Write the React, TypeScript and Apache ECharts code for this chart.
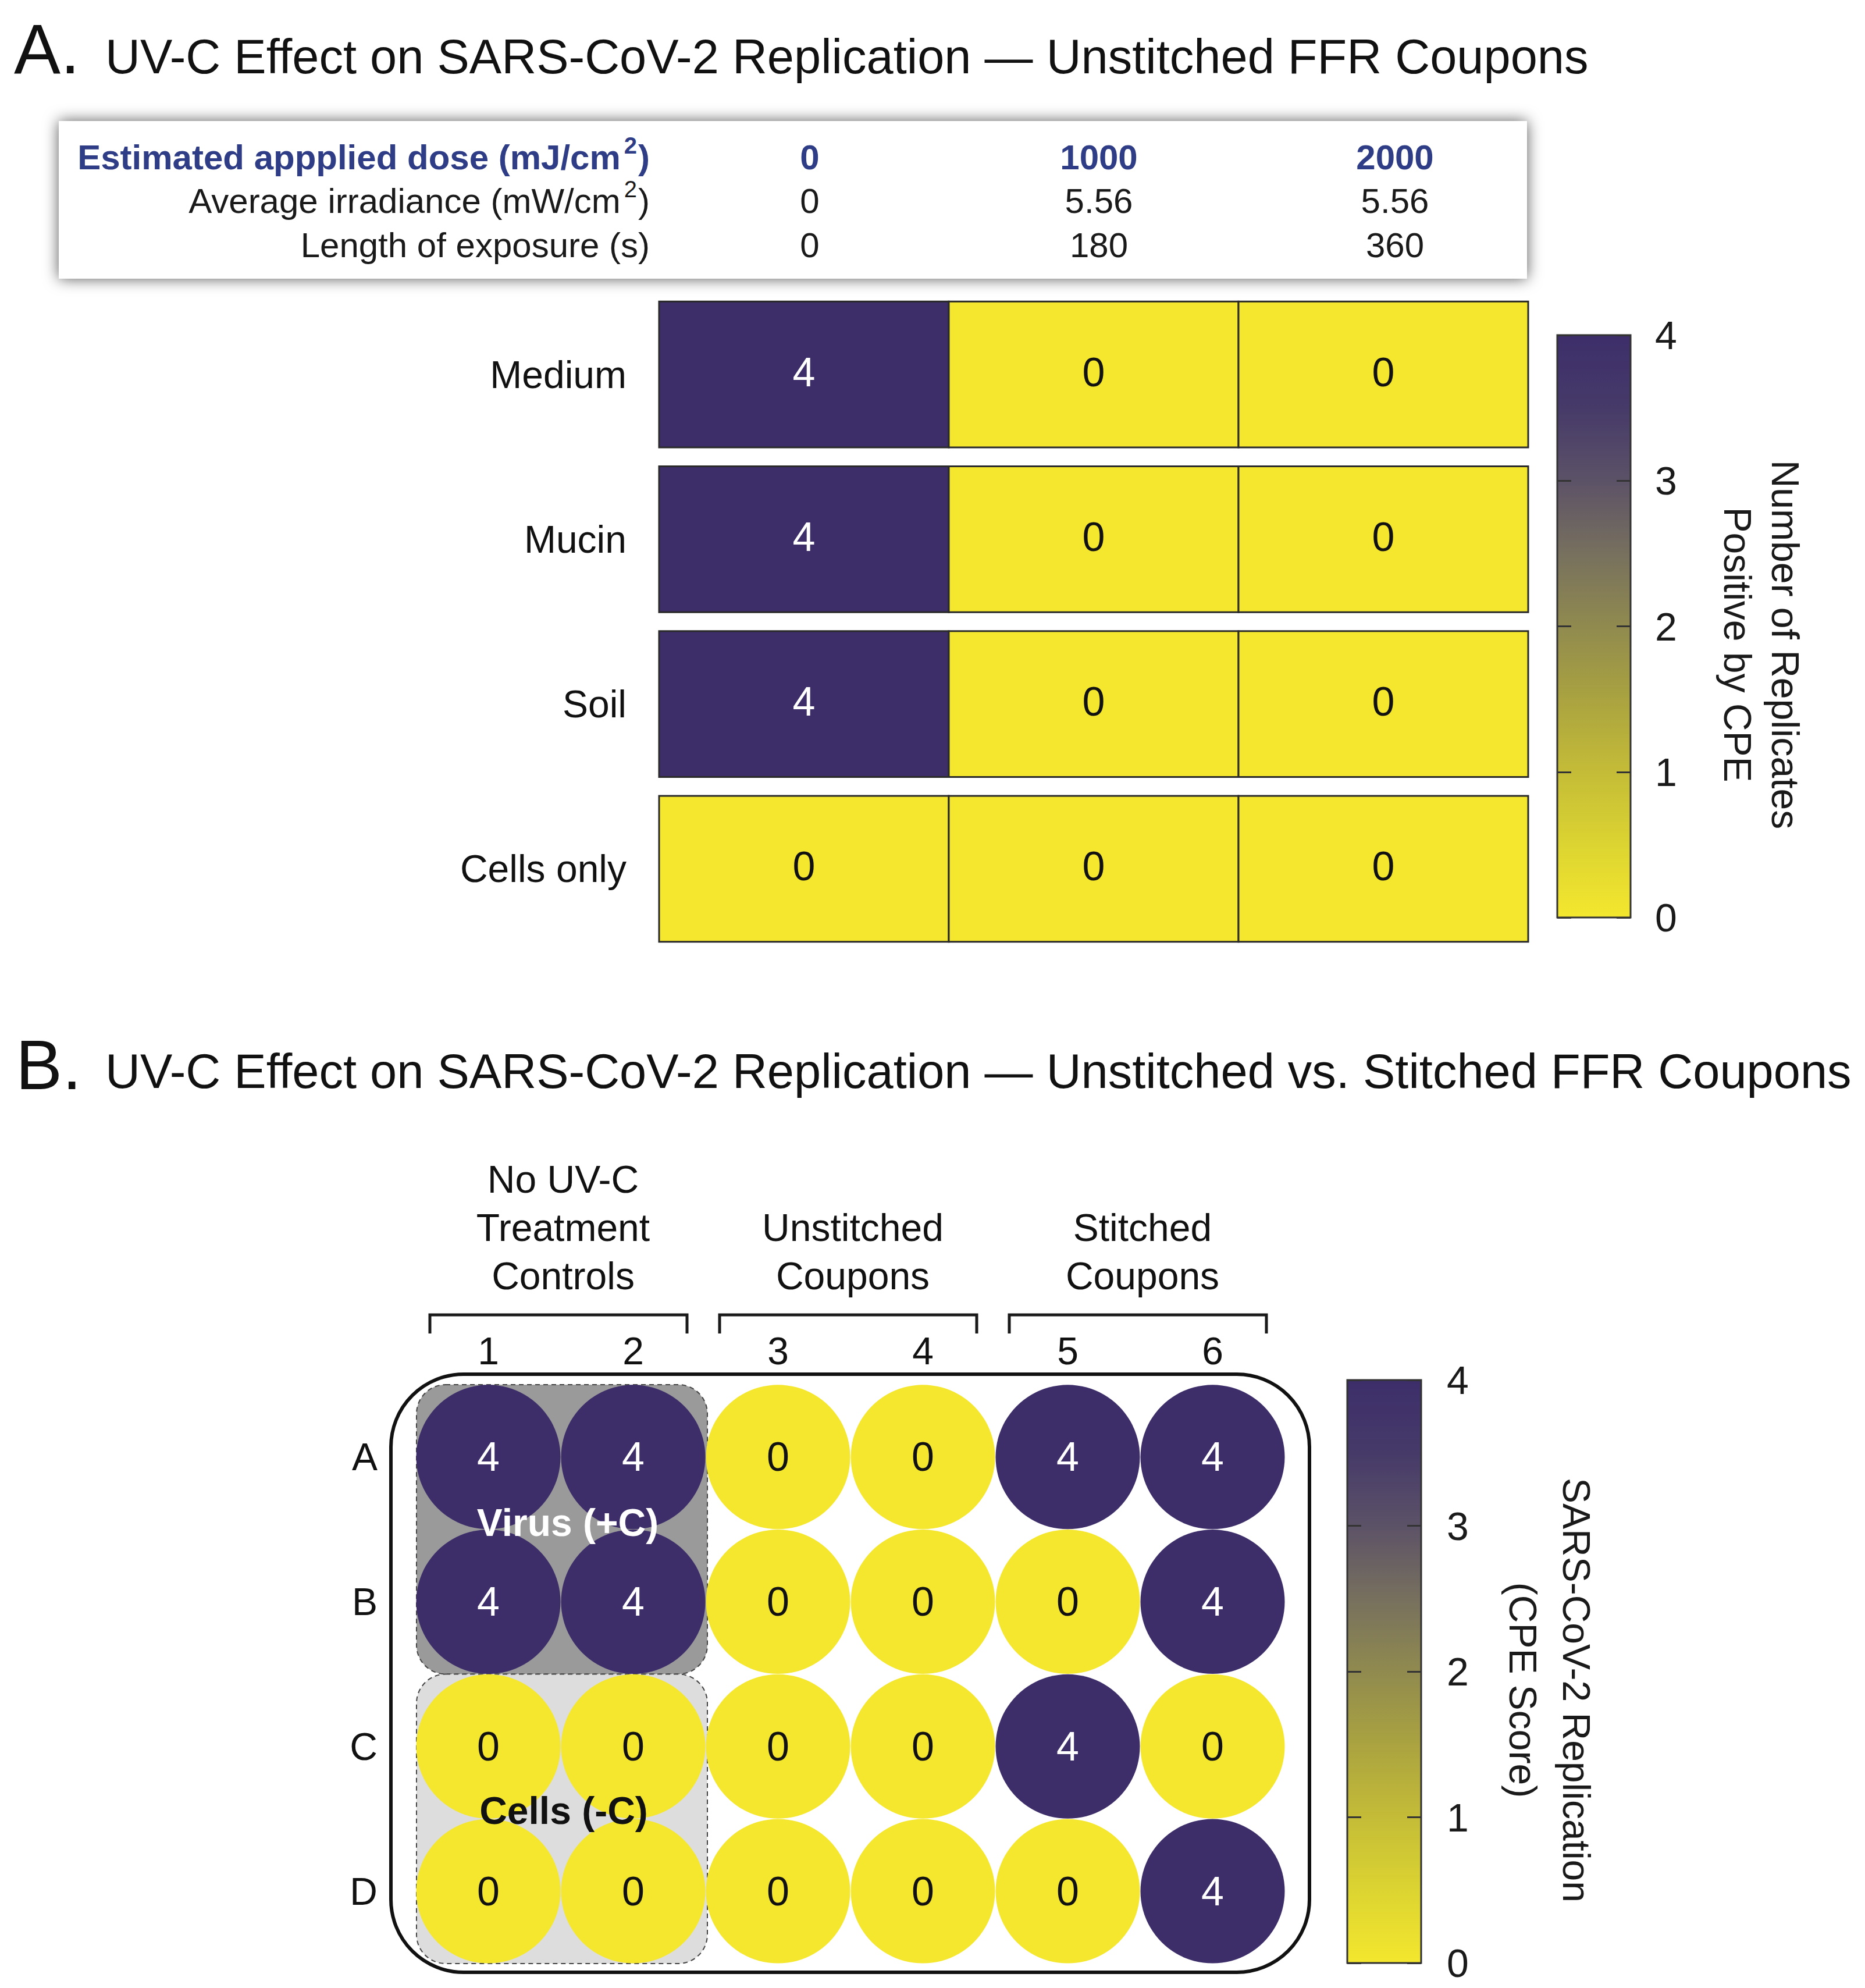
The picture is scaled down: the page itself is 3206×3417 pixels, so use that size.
import React, { useEffect, useRef } from 'react';
import * as echarts from 'echarts';

const FONT = '"Liberation Sans", Arial, Helvetica, sans-serif';

// ---------- data ----------
const doseLabels = ['0', '1000', '2000'];
const irradianceValues = ['0', '5.56', '5.56'];
const exposureValues = ['0', '180', '360'];
const sampleTypes = ['Medium', 'Mucin', 'Soil', 'Cells only'];
// rows = sampleTypes, columns = dose
const heatValues = [
  [4, 0, 0],
  [4, 0, 0],
  [4, 0, 0],
  [0, 0, 0],
];
const plateColumns = ['1', '2', '3', '4', '5', '6'];
const plateRows = ['A', 'B', 'C', 'D'];
const plateValues = [
  [4, 4, 0, 0, 4, 4],
  [4, 4, 0, 0, 0, 4],
  [0, 0, 0, 0, 4, 0],
  [0, 0, 0, 0, 0, 4],
];
const scoreRange = [0, 4];
const groupLabels = [
  { lines: ['No UV-C', 'Treatment', 'Controls'], cols: [0, 1] },
  { lines: ['Unstitched', 'Coupons'], cols: [2, 3] },
  { lines: ['Stitched', 'Coupons'], cols: [4, 5] },
];
const colorbarATitle = ['Number of Replicates', 'Positive by CPE'];
const colorbarBTitle = ['SARS-CoV-2 Replication', '(CPE Score)'];

// colormap low -> high
const CMAP = [
  '#f4e72e', '#dcd431', '#c4bc37', '#aaa340', '#908a4f',
  '#77705e', '#5c5267', '#463a69', '#3d2e6a',
];

// ---------- layout ----------
const HEAT_GRID = { left: 1133, top: 502, width: 1494, height: 1133 };
const CBA_GRID = { left: 2677, top: 576, width: 126, height: 1001 };
const PLATE_GRID = { left: 715, top: 2380, width: 1494, height: 995 };
const CBB_GRID = { left: 2316, top: 2372, width: 127, height: 1002 };

const heatData: number[][] = [];
heatValues.forEach((row, r) => row.forEach((v, c) => heatData.push([c, r, v])));

const plateData: any[] = [];
plateValues.forEach((row, r) =>
  row.forEach((v, c) =>
    plateData.push({ value: [c, r, v], label: { color: v >= 2 ? '#ffffff' : '#111111' } })
  )
);

function cbGradient() {
  const stops = CMAP.map((c, i) => ({ offset: 1 - i / (CMAP.length - 1), color: c })).reverse();
  return new echarts.graphic.LinearGradient(0, 0, 0, 1, stops);
}

function cbAxis(gridIndex: number, position: 'left' | 'right', labels: boolean, margin = 42) {
  return {
    gridIndex,
    type: 'value',
    min: scoreRange[0],
    max: scoreRange[1],
    interval: 1,
    position,
    z: 10,
    axisLine: { show: false },
    splitLine: { show: false },
    axisTick: { show: true, inside: true, length: 24, lineStyle: { color: '#333', width: 3 } },
    axisLabel: { show: labels, fontSize: 68, color: '#1a1a1a', margin, fontFamily: FONT },
  };
}

function colorbarSeries(xAxisIndex: number, yAxisIndex: number) {
  return {
    type: 'custom',
    xAxisIndex,
    yAxisIndex,
    z: 2,
    data: [[scoreRange[0], scoreRange[1]]],
    renderItem: (params: any, api: any) => {
      const p0 = api.coord([0, api.value(0)]);
      const p1 = api.coord([1, api.value(1)]);
      return {
        type: 'rect',
        shape: { x: p0[0], y: p1[1], width: p1[0] - p0[0], height: p0[1] - p1[1] },
        style: { fill: cbGradient(), stroke: '#333', lineWidth: 3 },
      };
    },
  };
}

function infoRow(y: number, label: string, sup: boolean, values: string[], bold: boolean) {
  const color = bold ? '#2e3d85' : '#1a1a1a';
  const fw = bold ? 'bold' : 'normal';
  const els: any[] = [];
  if (sup) {
    const m = label.match(/^(.*)2\)$/);
    const main = m ? m[1] : label;
    els.push({
      type: 'text',
      x: 1117,
      y,
      z: 20,
      style: {
        text: `{a|${main}}{s|2}{a|)}`,
        align: 'right',
        verticalAlign: 'middle',
        rich: {
          a: { fontSize: 60, fontWeight: fw, fill: color, fontFamily: FONT, lineHeight: 80, verticalAlign: 'middle' },
          s: { fontSize: 40, fontWeight: fw, fill: color, fontFamily: FONT, lineHeight: 46, verticalAlign: 'top', padding: [0, 2, 0, 6] },
        },
      },
    });
  } else {
    els.push({
      type: 'text', x: 1117, y, z: 20,
      style: { text: label, fontSize: 60, fontWeight: fw, fill: color, fontFamily: FONT, align: 'right', verticalAlign: 'middle' },
    });
  }
  const xs = [1392, 1889, 2398];
  values.forEach((v, i) => {
    els.push({
      type: 'text', x: xs[i], y, z: 20,
      style: { text: v, fontSize: 60, fontWeight: fw, fill: color, fontFamily: FONT, align: 'center', verticalAlign: 'middle' },
    });
  });
  return els;
}

function rotatedTitle(lines: string[], xs: number[], y: number) {
  return lines.map((t, i) => ({
    type: 'text',
    x: xs[i],
    y,
    rotation: -Math.PI / 2,
    z: 20,
    style: { text: t, fontSize: 66, fill: '#1a1a1a', fontFamily: FONT, align: 'center', verticalAlign: 'middle' },
  }));
}

function buildGraphics() {
  const g: any[] = [];
  // Panel A header
  g.push({ type: 'text', x: 24, y: 84, z: 20, style: { text: 'A.', fontSize: 120, fill: '#111', fontFamily: FONT, verticalAlign: 'middle' } });
  g.push({
    type: 'text', x: 181, y: 97, z: 20,
    style: { text: 'UV-C Effect on SARS-CoV-2 Replication \u2014 Unstitched FFR Coupons', fontSize: 83, fill: '#111', fontFamily: FONT, verticalAlign: 'middle' },
  });
  // info box
  g.push({
    type: 'rect', z: 1,
    shape: { x: 101, y: 208, width: 2524, height: 271 },
    style: { fill: '#ffffff', shadowBlur: 26, shadowColor: 'rgba(0,0,0,0.65)', shadowOffsetX: 0, shadowOffsetY: 0 },
  });
  g.push(...infoRow(270, 'Estimated appplied dose (mJ/cm2)', true, doseLabels, true));
  g.push(...infoRow(345, 'Average irradiance (mW/cm2)', true, irradianceValues, false));
  g.push(...infoRow(421, 'Length of exposure (s)', false, exposureValues, false));
  g.push(...rotatedTitle(colorbarATitle, [3069, 2987], 1108));

  // Panel B header
  g.push({ type: 'text', x: 27, y: 1830, z: 20, style: { text: 'B.', fontSize: 120, fill: '#111', fontFamily: FONT, verticalAlign: 'middle' } });
  g.push({
    type: 'text', x: 181, y: 1841, z: 20,
    style: { text: 'UV-C Effect on SARS-CoV-2 Replication \u2014 Unstitched vs. Stitched FFR Coupons', fontSize: 83, fill: '#111', fontFamily: FONT, verticalAlign: 'middle' },
  });

  // group labels + brackets
  const pitch = PLATE_GRID.width / plateColumns.length;
  groupLabels.forEach((gl) => {
    const c0 = PLATE_GRID.left + gl.cols[0] * pitch;
    const c1 = PLATE_GRID.left + (gl.cols[1] + 1) * pitch;
    const cx = (c0 + c1) / 2 + 4;
    const n = gl.lines.length;
    gl.lines.forEach((t, i) => {
      g.push({
        type: 'text', x: cx, y: 2193 - (n - 1 - i) * 83, z: 20,
        style: { text: t, fontSize: 66, fill: '#111', fontFamily: FONT, align: 'center', verticalAlign: 'middle' },
      });
    });
    g.push({
      type: 'polyline', z: 20,
      shape: { points: [[c0 + 24, 2292], [c0 + 24, 2260], [c1 - 32, 2260], [c1 - 32, 2292]] },
      style: { stroke: '#1a1a1a', lineWidth: 5, fill: 'none' },
    });
  });

  // plate outline
  g.push({
    type: 'rect', z: 1,
    shape: { x: 672, y: 2362, width: 1579, height: 1028, r: 125 },
    style: { fill: 'none', stroke: '#111', lineWidth: 6 },
  });
  // control regions
  const rh = PLATE_GRID.height / plateRows.length;
  g.push({
    type: 'rect', z: 1,
    shape: { x: PLATE_GRID.left + 1, y: PLATE_GRID.top, width: 2 * pitch + 2, height: 2 * rh, r: 50 },
    style: { fill: '#9a9a9a', stroke: '#444', lineWidth: 2, lineDash: [8, 6] },
  });
  g.push({
    type: 'rect', z: 1,
    shape: { x: PLATE_GRID.left + 1, y: PLATE_GRID.top + 2 * rh, width: 2 * pitch + 2, height: 2 * rh, r: 50 },
    style: { fill: '#dddddd', stroke: '#444', lineWidth: 2, lineDash: [8, 6] },
  });
  g.push({
    type: 'text', x: PLATE_GRID.left + pitch + 12, y: PLATE_GRID.top + rh - 12, z: 50,
    style: { text: 'Virus (+C)', fontSize: 66, fontWeight: 'bold', fill: '#ffffff', fontFamily: FONT, align: 'center', verticalAlign: 'middle' },
  });
  g.push({
    type: 'text', x: PLATE_GRID.left + pitch + 5, y: PLATE_GRID.top + 3 * rh - 14, z: 50,
    style: { text: 'Cells (-C)', fontSize: 66, fontWeight: 'bold', fill: '#111111', fontFamily: FONT, align: 'center', verticalAlign: 'middle' },
  });
  g.push(...rotatedTitle(colorbarBTitle, [2710, 2618], 2905));
  return g;
}

function buildOption(): any {
  return {
    animation: false,
    backgroundColor: '#ffffff',
    textStyle: { fontFamily: FONT },
    grid: [
      { ...HEAT_GRID },
      { ...CBA_GRID },
      { ...PLATE_GRID },
      { ...CBB_GRID },
    ],
    xAxis: [
      { gridIndex: 0, type: 'category', data: doseLabels, show: false },
      { gridIndex: 1, type: 'value', min: 0, max: 1, show: false },
      {
        gridIndex: 2, type: 'category', data: plateColumns, position: 'top',
        axisLine: { show: false }, axisTick: { show: false }, splitLine: { show: false },
        axisLabel: { fontSize: 66, color: '#111', margin: 25, fontFamily: FONT },
      },
      { gridIndex: 3, type: 'value', min: 0, max: 1, show: false },
    ],
    yAxis: [
      {
        gridIndex: 0, type: 'category', data: sampleTypes, inverse: true,
        axisLine: { show: false }, axisTick: { show: false }, splitLine: { show: false },
        axisLabel: { fontSize: 66, color: '#111', margin: 56, fontFamily: FONT },
      },
      cbAxis(1, 'left', false),
      cbAxis(1, 'right', true, 42),
      {
        gridIndex: 2, type: 'category', data: plateRows, inverse: true,
        axisLine: { show: false }, axisTick: { show: false }, splitLine: { show: false },
        axisLabel: { fontSize: 66, color: '#111', margin: 66, fontFamily: FONT },
      },
      cbAxis(3, 'left', false),
      cbAxis(3, 'right', true, 44),
    ],
    visualMap: [
      {
        type: 'continuous', show: false, min: scoreRange[0], max: scoreRange[1],
        dimension: 2, seriesIndex: [0, 2], inRange: { color: CMAP },
      },
    ],
    series: [
      {
        type: 'custom',
        xAxisIndex: 0,
        yAxisIndex: 0,
        data: heatData,
        renderItem: (params: any, api: any) => {
          const v = api.value(2);
          const c = api.coord([api.value(0), api.value(1)]);
          const s = api.size([1, 1]);
          const w = s[0];
          const h = s[1] * 0.886;
          return {
            type: 'group',
            children: [
              {
                type: 'rect',
                shape: { x: c[0] - w / 2, y: c[1] - h / 2, width: w, height: h },
                style: { fill: api.visual('color'), stroke: '#2a2a2a', lineWidth: 3 },
              },
              {
                type: 'text',
                style: {
                  text: String(v), x: c[0], y: c[1] - 4, align: 'center', verticalAlign: 'middle',
                  fontSize: 70, fontFamily: FONT, fill: v >= 2 ? '#ffffff' : '#111111',
                },
              },
            ],
          };
        },
      },
      colorbarSeries(1, 1),
      {
        type: 'scatter',
        xAxisIndex: 2,
        yAxisIndex: 3,
        symbol: 'circle',
        symbolSize: 248,
        z: 5,
        data: plateData,
        itemStyle: { opacity: 1 },
        label: {
          show: true, position: 'inside', fontSize: 70, fontFamily: FONT,
          formatter: (p: any) => String(p.value[2]),
        },
      },
      colorbarSeries(3, 4),
    ],
    graphic: { elements: buildGraphics() },
  };
}

export default function App() {
  const ref = useRef<HTMLDivElement>(null);
  useEffect(() => {
    if (!ref.current) return;
    const chart = echarts.init(ref.current, null, { renderer: 'svg' });
    chart.setOption(buildOption());
    return () => chart.dispose();
  }, []);
  return (
    <div
      ref={ref}
      style={{ position: 'absolute', left: 0, top: 0, width: 3206, height: 3417, background: '#fff' }}
    />
  );
}
